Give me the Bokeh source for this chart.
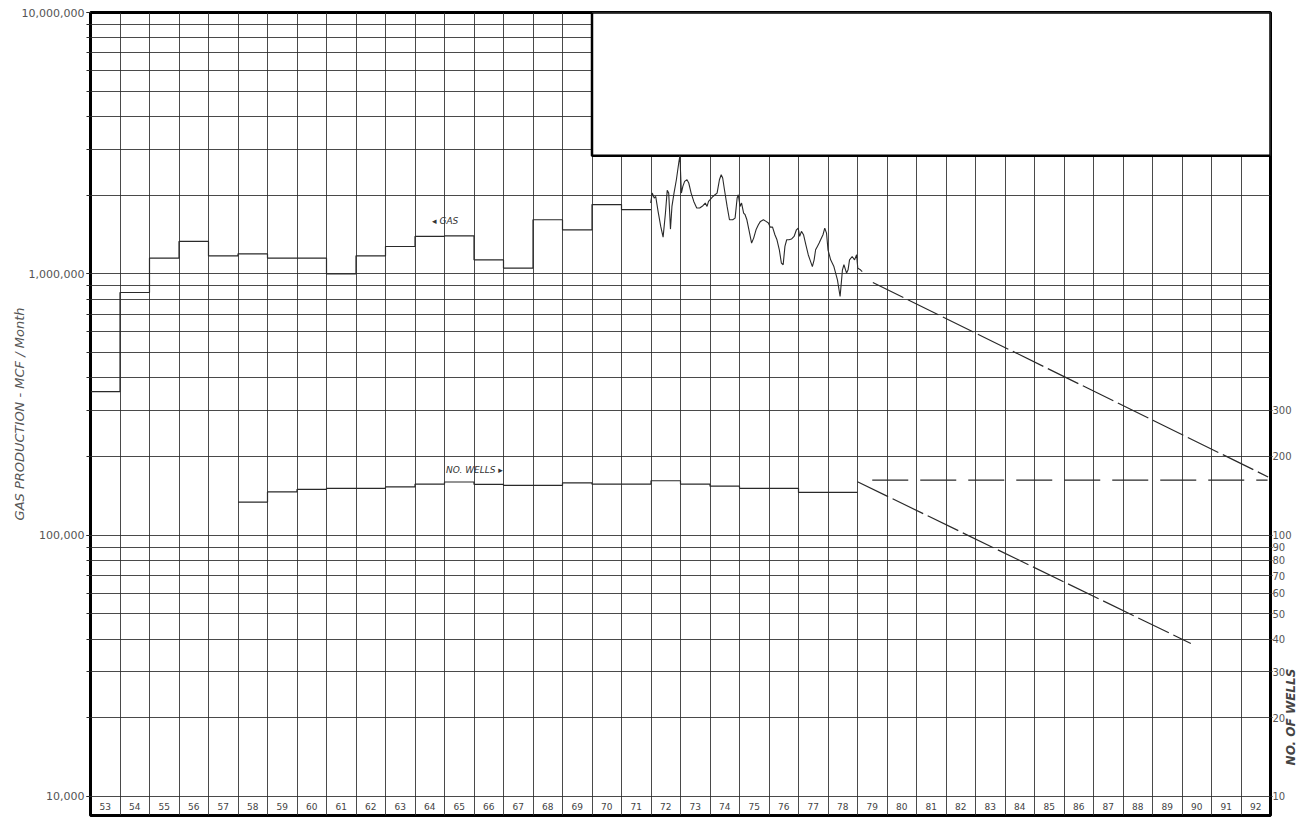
import math
from bokeh.plotting import figure
from bokeh.models import Range1d, LogAxis, FixedTicker, Label, NumeralTickFormatter
from bokeh.core.properties import value
from bokeh.embed import file_html
from bokeh.resources import INLINE

# ---- data -------------------------------------------------------------
# annual average gas production, thousand MCF / month (step starts Jan 1)
gas_years = list(range(1953, 1972))
gas_annual = [354, 848, 1148, 1330, 1172, 1193, 1148, 1148, 1000, 1172,
              1272, 1390, 1398, 1131, 1051, 1610, 1474, 1840, 1760]

# monthly gas production 1972-1979, (decimal year, thousand MCF / month)
gas_monthly = [
    (1971.99, 1866), (1972.04, 2037), (1972.11, 1950), (1972.16, 1977), (1972.24, 1733),
    (1972.33, 1518), (1972.41, 1382), (1972.49, 1708), (1972.55, 2086), (1972.60, 2037),
    (1972.66, 1483), (1972.71, 1811), (1972.78, 2037), (1972.86, 2291), (1972.94, 2655),
    (1972.98, 2832), (1973.03, 2037), (1973.08, 2161), (1973.14, 2258), (1973.22, 2291),
    (1973.28, 2226), (1973.36, 2037), (1973.45, 1892), (1973.55, 1785), (1973.65, 1785),
    (1973.76, 1822), (1973.84, 1866), (1973.90, 1811), (1973.95, 1892), (1974.02, 1932),
    (1974.10, 1977), (1974.17, 2007), (1974.24, 2037), (1974.32, 2291), (1974.38, 2395),
    (1974.43, 2326), (1974.49, 2098), (1974.58, 1811), (1974.66, 1610), (1974.77, 1610),
    (1974.85, 1634), (1974.92, 1950), (1974.96, 2007), (1975.02, 1811), (1975.07, 1866),
    (1975.14, 1708), (1975.19, 1683), (1975.25, 1610), (1975.33, 1453), (1975.41, 1311),
    (1975.48, 1370), (1975.56, 1474), (1975.64, 1541), (1975.71, 1587), (1975.81, 1610),
    (1975.90, 1587), (1975.98, 1564), (1976.04, 1509), (1976.12, 1509), (1976.20, 1411),
    (1976.27, 1350), (1976.35, 1236), (1976.42, 1099), (1976.48, 1083), (1976.54, 1273),
    (1976.60, 1350), (1976.68, 1350), (1976.76, 1358), (1976.85, 1390), (1976.93, 1474),
    (1976.99, 1496), (1977.04, 1390), (1977.10, 1453), (1977.17, 1411), (1977.25, 1291),
    (1977.33, 1183), (1977.39, 1131), (1977.47, 1066), (1977.53, 1131), (1977.58, 1236),
    (1977.64, 1273), (1977.70, 1311), (1977.75, 1350), (1977.83, 1411), (1977.89, 1496),
    (1977.95, 1432), (1978.00, 1236), (1978.09, 1131), (1978.20, 1066), (1978.32, 948),
    (1978.41, 819), (1978.49, 1036), (1978.54, 1083), (1978.63, 1006), (1978.68, 1036),
    (1978.73, 1131), (1978.82, 1165), (1978.90, 1131), (1978.97, 1183), (1979.01, 1051),
    (1979.10, 1036), (1979.16, 1020),
]

# number of producing wells (step starts Jan 1)
wells_years = list(range(1958, 1979))
wells_count = [133.7, 146.5, 149.6, 151, 151, 153, 156.7, 159.7, 156.4, 155, 155,
               158.5, 156.7, 156.7, 161.5, 156.7, 154, 151, 151, 145.7, 145.7]

# forecasts
gas_fcst_years = [1979.52, 1992.92]
gas_fcst = [926, 167]                 # thousand MCF / month
wells_fcst_years = [1979.0, 1990.3]
wells_fcst = [160, 38.5]
limit_years = [1979.5, 1992.9]
limit_level = 162.5                   # thousand MCF / month

year_labels = [str(y % 100) for y in range(1953, 1993)]
left_ticks = [1e4, 1e5, 1e6, 1e7]
right_ticks = [10, 20, 30, 40, 50, 60, 70, 80, 90, 100, 200, 300]

# ---- figure -----------------------------------------------------------
Y_LOW = 8454          # leaves a row under 10,000 for the year cells
X0, X1 = 1953, 1993
INK = "#2a2a2a"
FONT = "DejaVu Sans"

p = figure(width=1307, height=817, x_range=Range1d(X0, X1),
           y_range=Range1d(Y_LOW, 1e7), y_axis_type="log",
           output_backend="svg", toolbar_location=None,
           min_border_left=90, min_border_right=32,
           min_border_top=12, min_border_bottom=2)
p.background_fill_color = "white"
p.border_fill_color = "white"
p.outline_line_color = "black"
p.outline_line_width = 3

# grid: one vertical line per year, log paper horizontals
grid_vals = []
for k in range(4, 7):
    for m in range(1, 10):
        grid_vals.append(m * 10 ** k)
grid_vals.append(1e7)
p.xgrid.ticker = FixedTicker(ticks=list(range(X0, X1 + 1)))
p.ygrid.ticker = FixedTicker(ticks=grid_vals)
for g in (p.xgrid, p.ygrid):
    g.grid_line_color = INK
    g.grid_line_width = 1
    g.grid_line_alpha = 0.85

p.xaxis.visible = False

# left axis
ly = p.yaxis[0]
ly.ticker = FixedTicker(ticks=left_ticks, minor_ticks=grid_vals)
ly.formatter = NumeralTickFormatter(format="0,0")
ly.axis_line_color = None
ly.major_tick_out = 4
ly.major_tick_in = 0
ly.minor_tick_out = 4
ly.minor_tick_in = 0
ly.major_tick_line_color = INK
ly.minor_tick_line_color = INK
ly.major_label_standoff = 2
ly.major_label_text_font = FONT
ly.major_label_text_font_size = "11px"
ly.major_label_text_color = "#555555"
ly.axis_label = "GAS PRODUCTION - MCF / Month"
ly.axis_label_standoff = -8
ly.axis_label_text_font = FONT
ly.axis_label_text_font_size = "13px"
ly.axis_label_text_font_style = "italic"
ly.axis_label_text_color = "#555555"

# right axis: number of wells, title near the foot of the axis
p.extra_y_ranges = {"wells": Range1d(Y_LOW / 1000, 1e4)}
ry = LogAxis(y_range_name="wells",
             ticker=FixedTicker(ticks=right_ticks),
             formatter=NumeralTickFormatter(format="0"))
ry.axis_line_color = None
ry.major_tick_out = 2
ry.major_tick_in = 0
ry.minor_tick_out = 0
ry.minor_tick_in = 0
ry.major_tick_line_color = INK
ry.major_label_standoff = 0
ry.major_label_text_font = FONT
ry.major_label_text_font_size = "10px"
ry.major_label_text_color = "#555555"
ry.axis_label = "\u00a0" * 12 + "NO. OF WELLS"
ry.axis_label_standoff = -4
ry.axis_label_text_font = FONT
ry.axis_label_text_font_size = "12px"
ry.axis_label_text_font_style = "bold italic"
ry.axis_label_text_color = "#444444"
ry.axis_label_orientation = math.pi / 2
ry.axis_label_align = "start"
p.add_layout(ry, "right")

# blanked-out title block
p.quad(left=[1970], right=[X1], bottom=[2.83e6], top=[1e7],
       fill_color="white", line_color="black", line_width=2.5)

# year cells
p.text(x=[y + 0.5 for y in range(1953, 1993)], y=[9190] * 40, text=year_labels,
       text_font=value(FONT), text_font_size="9px", text_color="#444444",
       text_align="center", text_baseline="middle")

# gas: annual steps
step_x = gas_years + [1972]
step_y = [v * 1000 for v in gas_annual] + [gas_annual[-1] * 1000]
p.step(step_x, step_y, mode="after", line_color=INK, line_width=1.2)

# gas: monthly trace
mx = [t for t, _ in gas_monthly]
my = [v * 1000 for _, v in gas_monthly]
p.line(mx, my, line_color=INK, line_width=1.1)

# wells: annual steps
wx = wells_years + [1979]
wy = wells_count + [wells_count[-1]]
p.step(wx, wy, mode="after", y_range_name="wells", line_color=INK, line_width=1.2)

# forecasts
p.line(gas_fcst_years, [v * 1000 for v in gas_fcst], line_color=INK,
       line_width=1.2, line_dash="34 5")
p.line(wells_fcst_years, wells_fcst, y_range_name="wells", line_color=INK,
       line_width=1.2, line_dash="34 5")
p.line(limit_years, [limit_level * 1000] * 2, line_color=INK,
       line_width=1.2, line_dash="36 12")

# labels on the curves
p.add_layout(Label(x=1964.58, y=1.596e6, text="\u25c2 GAS", text_font="DejaVu Sans",
                   text_font_size="9px", text_font_style="italic", text_color="#333333",
                   text_baseline="middle"))
p.add_layout(Label(x=1965.05, y=177e3, text="NO. WELLS \u25b8", text_font="DejaVu Sans",
                   text_font_size="9px", text_font_style="italic", text_color="#333333",
                   text_baseline="middle"))

open("out.html", "w").write(file_html(p, INLINE))
